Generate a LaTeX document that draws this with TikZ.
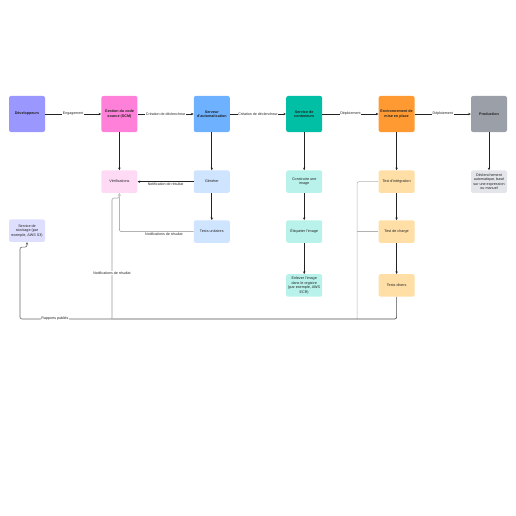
\documentclass[tikz,border=0pt]{standalone}
\usepackage{fontspec}
\setmainfont{Liberation Sans}
\usetikzlibrary{arrows.meta,positioning,calc}

\definecolor{devcol}{HTML}{9A97FF}
\definecolor{scmcol}{HTML}{FF80D9}
\definecolor{autocol}{HTML}{6DB1FF}
\definecolor{contcol}{HTML}{00BFA5}
\definecolor{envcol}{HTML}{FF9A33}
\definecolor{prodcol}{HTML}{9A9FA8}
\definecolor{scmlight}{HTML}{FFDAF5}
\definecolor{autolight}{HTML}{CFE4FF}
\definecolor{contlight}{HTML}{B8F2EA}
\definecolor{envlight}{HTML}{FFDFA6}
\definecolor{prodlight}{HTML}{E3E5EA}
\definecolor{storelight}{HTML}{DEDEFF}
\definecolor{inkcol}{HTML}{222222}

\begin{document}
\begin{tikzpicture}[
  x=1pt, y=-1pt,
  font=\fontsize{3.7}{4.4}\selectfont,
  text=inkcol,
  stage/.style={rounded corners=2pt, minimum width=36pt, minimum height=36pt, align=center, inner sep=1pt, font=\fontsize{3.7}{4.4}\selectfont\bfseries},
  task/.style={rounded corners=2pt, minimum width=36pt, minimum height=22.5pt, align=center, inner sep=1pt},
  flow/.style={-{Stealth[length=2.6pt,width=2.4pt]}, line width=0.7pt, draw=inkcol},
  link/.style={line width=0.5pt, draw=black!70},
  lane/.style={line width=0.5pt, draw=black!30, rounded corners=2pt},
  notify/.style={-{Stealth[length=2.6pt,width=2.4pt]}, line width=1.1pt, draw=black!22, rounded corners=2pt},
  report/.style={-{Stealth[length=2.6pt,width=2.4pt]}, line width=0.6pt, draw=black!60, rounded corners=2pt},
  lbl/.style={fill=white, inner sep=0.6pt, font=\fontsize{3.6}{4.2}\selectfont}
]
  \useasboundingbox (0,0) rectangle (516,516);

  % pipeline stages
  \node[stage, fill=devcol] (dev) at (27,114) {Développeurs};
  \node[stage, fill=scmcol, right=56pt of dev] (scm) {Gestion du code\\source (SCM)};
  \node[stage, fill=autocol, right=56pt of scm] (auto) {Serveur\\d'automatisation};
  \node[stage, fill=contcol, right=56pt of auto] (cont) {Service de\\conteneurs};
  \node[stage, fill=envcol, right=56pt of cont] (env) {Environnement de\\mise en place};
  \node[stage, fill=prodcol, right=56pt of env] (prod) {Production};

  % sub tasks
  \node[task, fill=scmlight, below=38pt of scm] (verif) {Vérifications};
  \node[task, fill=autolight, below=38pt of auto] (build) {Générer};
  \node[task, fill=autolight, below=27pt of build] (unit) {Tests unitaires};
  \node[task, fill=contlight, below=38pt of cont] (img) {Construire une\\image};
  \node[task, fill=contlight, below=27pt of img] (tag) {Étiqueter l'image};
  \node[task, fill=contlight, below=31pt of tag] (push) {Enlever l'image\\dans le registre\\(par exemple, AWS\\ECR)};
  \node[task, fill=envlight, below=38pt of env] (integ) {Test d'intégration};
  \node[task, fill=envlight, below=27pt of integ] (load) {Test de charge};
  \node[task, fill=envlight, below=31pt of load] (misc) {Tests divers};
  \node[task, fill=prodlight, below=38pt of prod] (trigger) {Déclenchement\\automatique, basé\\sur une expression\\ou manuel};
  \node[task, fill=storelight, below=87pt of dev] (store) {Service de\\stockage (par\\exemple, AWS S3)};

  \coordinate (hub) at (112,319);
  \coordinate (lanebot) at (357,319);
  \coordinate (sbend) at ($(store.south)+(-7,5)$);
  \coordinate (vbend) at ($(verif.south)+(0,5)$);

  % main flow
  \draw[flow] (dev) -- node[lbl] {Engagement} (scm);
  \draw[flow] (scm) -- node[lbl] {Création de déclencheur} (auto);
  \draw[flow] (auto) -- node[lbl] {Création de déclencheur} (cont);
  \draw[flow] (cont) -- node[lbl] {Déploiement} (env);
  \draw[flow] (env) -- node[lbl] {Déploiement} (prod);

  \draw[flow] (scm) -- (verif);
  \draw[flow] (auto) -- (build);
  \draw[flow] (build) -- node[below=0.3pt, inner sep=0.6pt, font=\fontsize{3.6}{4.2}\selectfont] {Notification de résultat} (verif);
  \draw[flow] (build) -- (unit);
  \draw[flow] (cont) -- (img);
  \draw[flow] (img) -- (tag);
  \draw[flow] (tag) -- (push);
  \draw[flow] (env) -- (integ);
  \draw[flow] (integ) -- (load);
  \draw[flow] (load) -- (misc);
  \draw[flow] (prod) -- (trigger);

  % feedback
  \draw[report, draw=black!45, line width=0.5pt] (unit.west) -| node[pos=0.2, below=0.3pt, inner sep=0.6pt, font=\fontsize{3.6}{4.2}\selectfont] {Notifications de résultat} (verif.south);
  \draw[lane] (integ.west) -| (lanebot);
  \draw[lane] (load.west) -- (load.west -| lanebot);
  \draw[link, line width=0.7pt, rounded corners=2pt] (misc.south) |- (hub);
  \draw[notify] (hub) |- node[lbl, pos=0.19] {Notifications de résultat} (vbend) -- (verif.south);
  \draw[report] (hub) -| node[lbl, pos=0.31] {Rapports publiés} (sbend) -- (sbend -| store.south) -- (store.south);
\end{tikzpicture}
\end{document}
